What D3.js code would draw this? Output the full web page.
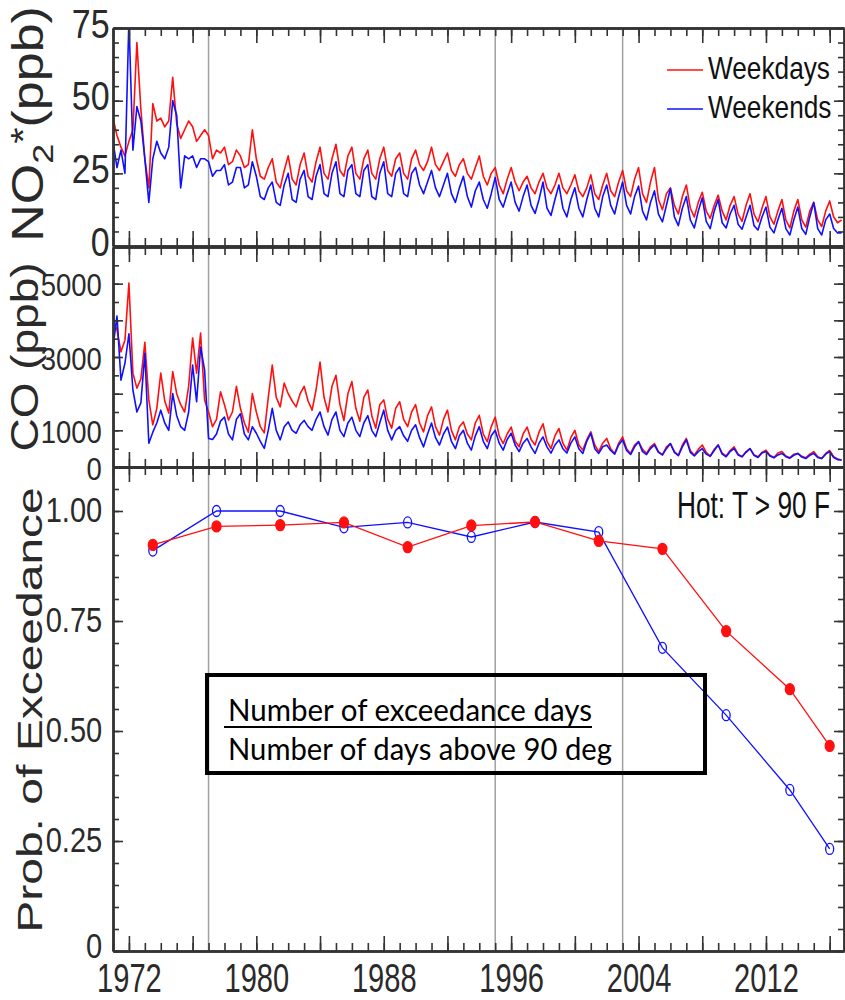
<!DOCTYPE html>
<html>
<head>
<meta charset="utf-8">
<script src="https://cdn.jsdelivr.net/npm/d3@7"></script>
<style>
body { margin: 0; background: #fff; }
svg { display: block; }
</style>
</head>
<body>
<svg id="chart" width="845" height="1000"></svg>
<script>
// quarterly means, Jan / Apr / Jul / Oct, starting Jan 1971
var startYear = 1971;

var no2Weekdays = [
  44, 38, 34, 31,   36, 40, 70, 47,   30, 20, 49, 43,   44, 41, 43, 58,
  42, 37, 40, 43,   41, 36, 38, 40,   38, 30, 33, 32,   34, 28, 29, 33,
  31, 27, 28, 40,   30, 24, 23, 27,   30, 22, 20, 26,   31, 23, 21, 28,
  32, 24, 22, 29,   34, 25, 23, 30,   35, 26, 24, 31,   34, 25, 23, 30,
  33, 25, 23, 30,   34, 26, 24, 30,   32, 25, 23, 30,   33, 28, 26, 29,
  34, 28, 26, 29,   32, 26, 24, 28,   30, 25, 23, 27,   31, 24, 21, 25,
  27, 21, 18, 23,   27, 22, 19, 22,   24, 20, 18, 22,   25, 20, 18, 21,
  25, 20, 18, 21,   24.5, 19, 17, 20, 24.5, 18, 16, 21, 25, 19, 17, 22,
  26, 19, 17, 23,   27, 18, 15, 22,   27, 16, 12.5, 18, 20, 14, 11, 17,
  21, 13, 10, 15,   18.5, 12, 9.5, 14, 17.5, 12, 9, 14, 17, 11, 8.5, 14,
  18, 11, 8.3, 13,  17, 10, 7.5, 12,  16, 9, 6.2, 12,   16, 9, 6.5, 12,
  15, 9, 6.7, 12,   15.5, 10, 8, 9
];

var no2Weekends = [
  36, 27, 33, 25,   78, 33, 48, 43,   30, 15, 30, 36,   32, 30, 34, 50,
  45, 20, 31, 30,   31, 27, 30, 30,   29, 24, 26, 26,   28, 21, 22, 27,
  27, 20, 21, 29,   24, 17, 16, 20,   22, 15, 14, 21,   25, 16, 15, 23,
  26, 17, 16, 24,   28, 18, 17, 25,   29, 18, 17, 26,   28, 18, 17, 26,
  28, 17, 16, 25,   29, 18, 17, 25,   27, 18, 17, 25,   27, 21, 18, 22,
  26, 20, 17, 21,   25, 18, 15, 20,   24, 17, 13.4, 19, 22, 16, 13, 18,
  23.6, 16, 13.4, 18, 22, 15, 12, 17, 21, 14, 11.2, 16, 22, 13, 10.5, 16,
  21, 13, 10, 16,   20, 13, 10, 16,   21, 13, 10, 17,   21, 14, 11, 17,
  22, 14, 11, 17,   20.6, 12, 9, 15, 19, 11, 8.3, 14,  19.8, 10, 7, 13,
  17, 9, 6.2, 12,   16.6, 8.5, 6, 12, 16, 8, 6.2, 11,  14, 7.5, 5.8, 10,
  14, 7, 5.5, 10,   13.4, 6.5, 4.5, 9, 13, 6, 3.8, 9,  13.4, 6, 4, 10,
  15, 6, 3.8, 9,    11, 6, 4.5, 4.5
];

var coWeekdays = [
  4000, 3740, 3140, 3460,  5020, 2560, 2150, 2400,  3400, 1830, 1150, 1600,  2560, 1800, 1470, 2600,
  2000, 1700, 1500, 2200,  3520, 2560, 3650, 1830,  1500, 1100, 1300, 2050,  1700, 1280, 1500, 2200,
  1600, 1200, 950, 2000,   1500, 1100, 930, 1900,   2780, 1900, 1640, 2290,  2000, 1800, 1640, 2000,
  2200, 1800, 1550, 2100,  2860, 1900, 1500, 2200,  2500, 1700, 1270, 2000,  2330, 1600, 1250, 1900,
  2100, 1400, 1060, 1700,  1830, 1300, 1060, 1600,  1780, 1300, 1100, 1500,  1700, 1200, 960, 1400,
  1640, 1100, 870, 1300,   1550, 1000, 740, 1100,   1230, 900, 740, 1200,    1410, 900, 690, 1100,
  1360, 850, 640, 900,     1090, 700, 550, 900,     1090, 750, 600, 950,     1180, 700, 500, 850,
  1050, 650, 460, 800,     1000, 600, 460, 750,     960, 600, 420, 650,      780, 500, 370, 650,
  820, 500, 370, 600,      690, 480, 370, 550,      640, 420, 330, 550,      640, 420, 320, 600,
  780, 450, 320, 480,      600, 400, 300, 480,      600, 380, 300, 450,      550, 350, 280, 420,
  500, 330, 280, 400,      460, 320, 260, 380,      420, 300, 250, 350,      370, 290, 250, 350,
  420, 280, 230, 370,      450, 280, 220, 190
];

var coWeekends = [
  3270, 4120, 2370, 2830,  3630, 2100, 1500, 1750,  3100, 650, 950, 1200,    1550, 1200, 1000, 2000,
  1400, 1100, 1000, 1500,  2780, 1780, 3270, 2650,  780, 750, 900, 1250,     1360, 900, 740, 1300,
  1450, 900, 740, 1100,    920, 700, 510, 1000,     1600, 1000, 740, 1100,   1230, 1000, 920, 1150,
  1270, 1100, 1000, 1300,  1500, 1100, 870, 1300,   1500, 1000, 830, 1200,   1360, 1000, 830, 1200,
  1400, 1000, 830, 1200,   1550, 1000, 740, 1000,   1100, 850, 700, 1000,    1150, 800, 550, 900,
  1200, 800, 600, 900,     1090, 700, 500, 850,     1000, 650, 460, 850,     1100, 700, 500, 850,
  1000, 650, 460, 750,     920, 600, 420, 650,      780, 550, 370, 650,      820, 550, 380, 600,
  740, 500, 380, 650,      820, 500, 370, 700,      920, 500, 370, 550,      600, 450, 350, 600,
  740, 450, 340, 550,      690, 420, 340, 500,      600, 400, 330, 500,      640, 400, 310, 550,
  740, 400, 300, 420,      500, 350, 290, 450,      600, 350, 280, 420,      500, 330, 280, 400,
  500, 320, 260, 380,      420, 300, 250, 330,      370, 280, 240, 320,      370, 270, 230, 320,
  370, 260, 230, 350,      420, 260, 200, 190
];

// probability of exceedance on hot days (T > 90 F), 4-year bins
var hotYears = [1973.5, 1977.5, 1981.5, 1985.5, 1989.5, 1993.5, 1997.5, 2001.5, 2005.5, 2009.5, 2013.5, 2016];
var hotWeekdays = [0.923, 0.965, 0.968, 0.974, 0.918, 0.967, 0.975, 0.932, 0.914, 0.727, 0.595, 0.466];
var hotWeekends = [0.910, 1.000, 1.000, 0.963, 0.974, 0.941, 0.975, 0.952, 0.689, 0.536, 0.366, 0.232];

var yearLabels = [1972, 1980, 1988, 1996, 2004, 2012];
var no2Labels = [0, 25, 50, 75];
var coLabels = [0, 1000, 3000, 5000];
var hotLabels = [0, 0.25, 0.5, 0.75, 1.0];
var markerYears = [1977, 1995, 2003];

var RED = '#ff1010', BLUE = '#1010ff';
var LEFT = 113, RIGHT = 844;

var svg = d3.select('#chart');

var x = d3.scaleLinear().domain([1971, 2016.9]).range([LEFT, RIGHT]);
var yNo2 = d3.scaleLinear().domain([0, 75]).range([246, 28]);
var yCo = d3.scaleLinear().domain([0, 6000]).range([467, 247]);
var yHot = d3.scaleLinear().domain([0, 1.1]).range([951, 467]);

function quarterly(values) {
    return values.map(function(v, i) {
        return { t: startYear + i / 4, v: v };
    });
}

// clip each panel
var defs = svg.append('defs');
[['clip-no2', yNo2], ['clip-co', yCo]].forEach(function(c) {
    var r = c[1].range();
    defs.append('clipPath').attr('id', c[0])
        .append('rect')
        .attr('x', LEFT).attr('y', r[1])
        .attr('width', RIGHT - LEFT).attr('height', r[0] - r[1]);
});

// grey marker lines across all panels
svg.append('g')
    .selectAll('line')
    .data(markerYears)
    .enter()
    .append('line')
    .attr('x1', function(d) { return x(d); })
    .attr('x2', function(d) { return x(d); })
    .attr('y1', yNo2.range()[1])
    .attr('y2', yHot.range()[0])
    .attr('stroke', '#a0a0a0')
    .attr('stroke-width', 1.5);

function drawSeries(values, y, color, clip) {
    var line = d3.line()
        .x(function(d) { return x(d.t); })
        .y(function(d) { return y(d.v); });
    svg.append('path')
        .datum(quarterly(values))
        .attr('clip-path', 'url(#' + clip + ')')
        .attr('d', line)
        .attr('fill', 'none')
        .attr('stroke', color)
        .attr('stroke-width', 1.6)
        .attr('stroke-linejoin', 'round');
}

drawSeries(no2Weekdays, yNo2, RED, 'clip-no2');
drawSeries(no2Weekends, yNo2, BLUE, 'clip-no2');
drawSeries(coWeekdays, yCo, RED, 'clip-co');
drawSeries(coWeekends, yCo, BLUE, 'clip-co');

// hot-day probability panel
function drawHot(values, color, filled) {
    var pts = hotYears.map(function(t, i) { return { t: t, v: values[i] }; });
    svg.append('path')
        .datum(pts)
        .attr('d', d3.line()
            .x(function(d) { return x(d.t); })
            .y(function(d) { return yHot(d.v); }))
        .attr('fill', 'none')
        .attr('stroke', color)
        .attr('stroke-width', 1.3);
    svg.append('g')
        .selectAll('ellipse')
        .data(pts)
        .enter()
        .append('ellipse')
        .attr('cx', function(d) { return x(d.t); })
        .attr('cy', function(d) { return yHot(d.v); })
        .attr('rx', filled ? 4.5 : 4)
        .attr('ry', 5.5)
        .attr('fill', filled ? color : 'none')
        .attr('stroke', color)
        .attr('stroke-width', 1.3);
}
drawHot(hotWeekends, BLUE, false);
drawHot(hotWeekdays, RED, true);

// frames and ticks
function addAxis(axis, transform, values, size) {
    var g = svg.append('g')
        .attr('transform', transform)
        .attr('color', '#333')
        .call(axis.tickValues(values).tickSize(size).tickSizeOuter(0).tickFormat(''));
    g.selectAll('.tick line').attr('stroke-width', 1.6);
    g.select('.domain').attr('stroke-width', 2.4);
}

var minorYears = d3.range(1971, 2017);
var majorYears = d3.range(1972, 2017, 4);

function frame(y, minorStep, majorStep) {
    var r = y.range(), top = y.domain()[1];
    var minor = d3.range(0, top + 1e-9, minorStep);
    var major = d3.range(0, top + 1e-9, majorStep);
    addAxis(d3.axisBottom(x), 'translate(0,' + r[1] + ')', minorYears, 8);
    addAxis(d3.axisBottom(x), 'translate(0,' + r[1] + ')', majorYears, 15);
    addAxis(d3.axisTop(x), 'translate(0,' + r[0] + ')', minorYears, 8);
    addAxis(d3.axisTop(x), 'translate(0,' + r[0] + ')', majorYears, 15);
    addAxis(d3.axisRight(y), 'translate(' + LEFT + ',0)', minor, 6);
    addAxis(d3.axisRight(y), 'translate(' + LEFT + ',0)', major, 10);
    addAxis(d3.axisLeft(y), 'translate(' + RIGHT + ',0)', minor, 6);
    addAxis(d3.axisLeft(y), 'translate(' + RIGHT + ',0)', major, 10);
}
frame(yNo2, 5, 25);
frame(yCo, 500, 1000);
frame(yHot, 0.05, 0.25);

// tick labels (the original figure is squeezed horizontally)
var FONT = "'Liberation Sans', Arial, Helvetica, sans-serif";

function yLabels(y, values, fmt, size, sx, pad, dy) {
    var g = svg.append('g')
        .attr('transform', 'translate(' + LEFT + ',0)')
        .call(d3.axisLeft(y).tickValues(values).tickSize(0).tickPadding(pad).tickFormat(fmt));
    g.select('.domain').remove();
    g.selectAll('text')
        .attr('font-family', FONT)
        .attr('font-size', size)
        .attr('fill', '#2a2a2a')
        .attr('dy', dy)
        .attr('transform', 'scale(' + sx + ',1)');
    return g;
}
yLabels(yNo2, no2Labels, d3.format('d'), 40, 0.85, 4, 9);
yLabels(yCo, coLabels, d3.format('d'), 32, 0.86, 13, 12);
yLabels(yHot, hotLabels, function(d) { return d === 0 ? '0' : d.toFixed(2); }, 35, 0.83, 13, 10)
    .selectAll('text')
    .filter(function(d) { return d === 0; })
    .attr('dy', 6);

var xl = svg.append('g')
    .attr('transform', 'translate(0,' + yHot.range()[0] + ')')
    .call(d3.axisBottom(x).tickValues(yearLabels).tickSize(0).tickPadding(12).tickFormat(d3.format('d')));
xl.select('.domain').remove();
xl.selectAll('text')
    .attr('font-family', FONT)
    .attr('font-size', 41)
    .attr('fill', '#2a2a2a')
    .attr('transform', 'scale(0.71,1)');

// axis titles
function yTitle(cx, cy, size, sx) {
    return svg.append('text')
        .attr('transform', 'translate(' + cx + ',' + cy + ') scale(' + sx + ',1) rotate(-90)')
        .attr('text-anchor', 'middle')
        .attr('font-family', FONT)
        .attr('font-size', size)
        .attr('fill', '#2a2a2a');
}
var t1 = yTitle(43, 124, 52, 0.84);
t1.append('tspan').text('NO');
t1.append('tspan').attr('font-size', 36).attr('dy', 12).text('2');
t1.append('tspan').attr('font-size', 42).attr('dy', -22).text('*');
t1.append('tspan').attr('dy', 10).text('(ppb)');

yTitle(38, 357, 46, 0.86).text('CO (ppb)');
yTitle(42, 710, 48, 0.73).text('Prob. of Exceedance');

// legend
var legend = [
    { label: 'Weekdays', color: RED, y: 70 },
    { label: 'Weekends', color: BLUE, y: 109 }
];
var lg = svg.append('g').selectAll('g').data(legend).enter().append('g');
lg.append('line')
    .attr('x1', 667).attr('x2', 703)
    .attr('y1', function(d) { return d.y; })
    .attr('y2', function(d) { return d.y; })
    .attr('stroke', function(d) { return d.color; })
    .attr('stroke-width', 1.6);
lg.append('text')
    .attr('transform', function(d) { return 'translate(708,' + (d.y + 8.5) + ') scale(0.82,1)'; })
    .attr('font-family', FONT)
    .attr('font-size', 32)
    .attr('fill', '#111')
    .text(function(d) { return d.label; });

svg.append('text')
    .attr('transform', 'translate(830,518) scale(0.73,1)')
    .attr('text-anchor', 'end')
    .attr('font-family', FONT)
    .attr('font-size', 36)
    .attr('fill', '#111')
    .text('Hot: T > 90 F');

// ratio box
svg.append('rect')
    .attr('x', 207).attr('y', 675)
    .attr('width', 498).attr('height', 98)
    .attr('fill', 'none')
    .attr('stroke', '#000')
    .attr('stroke-width', 4);
var boxFont = "Lato, 'Open Sans', sans-serif";
svg.append('text')
    .attr('x', 228).attr('y', 721)
    .attr('font-family', boxFont).attr('font-size', 31)
    .attr('textLength', 364).attr('lengthAdjust', 'spacingAndGlyphs')
    .text('Number of exceedance days');
svg.append('line')
    .attr('x1', 224).attr('x2', 592)
    .attr('y1', 727).attr('y2', 727)
    .attr('stroke', '#000').attr('stroke-width', 2);
svg.append('text')
    .attr('x', 228).attr('y', 760)
    .attr('font-family', boxFont).attr('font-size', 31)
    .attr('textLength', 384).attr('lengthAdjust', 'spacingAndGlyphs')
    .text('Number of days above 90 deg');
</script>
</body>
</html>
